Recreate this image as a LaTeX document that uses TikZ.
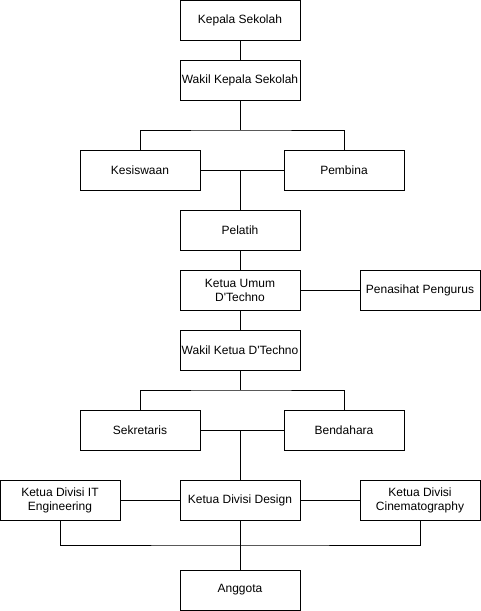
\documentclass[tikz,border=0pt]{standalone}
\usepackage{fontspec}
\setmainfont{Liberation Sans}
\usepackage{tikz}
\usetikzlibrary{positioning}

\begin{document}
\begin{tikzpicture}[x=1pt,y=-1pt,line width=1pt,
 box/.style={draw,minimum width=120pt,minimum height=40pt,inner sep=1pt,align=center,font=\fontsize{12}{14}\selectfont}]
 \useasboundingbox (0,0) rectangle (481,611);
 \node[box] (kepala) at (240,20) {Kepala Sekolah};
 \node[box] (wakil) at (240,80) {Wakil Kepala Sekolah};
 \node[box] (kesiswaan) at (140,170) {Kesiswaan};
 \node[box] (pembina) at (344,170) {Pembina};
 \node[box] (pelatih) at (240,230) {Pelatih};
 \node[box] (ketua) at (240,290) {Ketua Umum\\D\textquotesingle Techno};
 \node[box] (penasihat) at (420,290) {Penasihat Pengurus};
 \node[box] (wakilketua) at (240,350) {Wakil Ketua D\textquotesingle Techno};
 \node[box] (sekretaris) at (140,430) {Sekretaris};
 \node[box] (bendahara) at (344,430) {Bendahara};
 \node[box] (design) at (240,500) {Ketua Divisi Design};
 \node[box] (itdiv) at (60,500) {Ketua Divisi IT\\Engineering};
 \node[box] (cinema) at (420,500) {Ketua Divisi\\Cinematography};
 \node[box] (anggota) at (240,590) {Anggota};

 \coordinate (j1) at (240,130);
 \coordinate (j2) at (240,390);
 \coordinate (j3) at (240,545);

 \draw (kepala) -- (wakil);
 \draw (wakil) -- (j1);
 \draw (kesiswaan.north) |- (j1) -| (pembina.north);
 \draw (kesiswaan) -- (pembina);
 \draw (pelatih) -- (pelatih |- kesiswaan);
 \draw (pelatih) -- (ketua);
 \draw (ketua) -- (penasihat);
 \draw (ketua) -- (wakilketua);
 \draw (wakilketua) -- (j2);
 \draw (sekretaris.north) |- (j2) -| (bendahara.north);
 \draw (sekretaris) -- (bendahara);
 \draw (design) -- (design |- sekretaris);
 \draw (itdiv) -- (design);
 \draw (design) -- (cinema);
 \draw (itdiv.south) |- (j3) -| (cinema.south);
 \draw (design) -- (anggota);
\end{tikzpicture}
\end{document}
